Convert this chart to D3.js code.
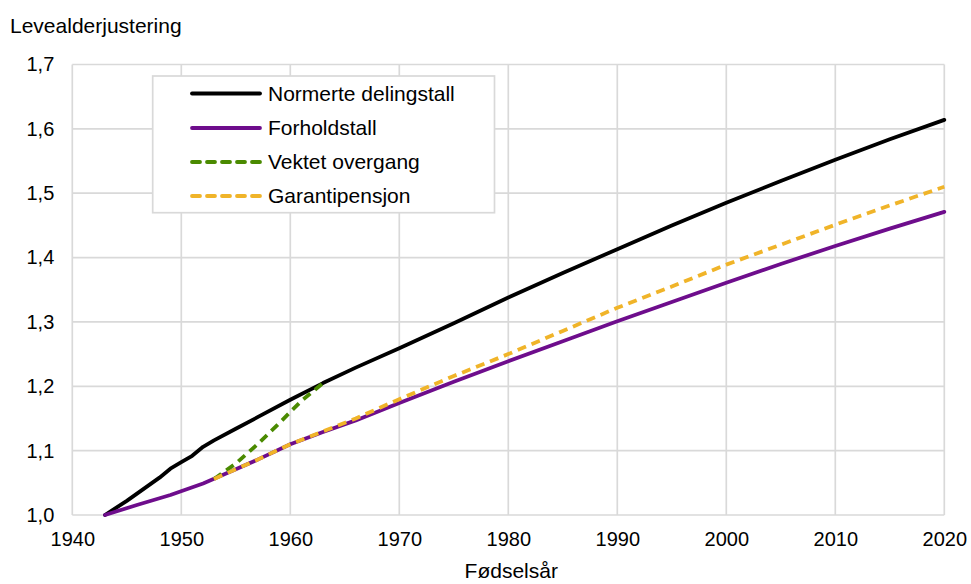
<!DOCTYPE html>
<html>
<head>
<meta charset="utf-8">
<script src="https://cdn.jsdelivr.net/npm/d3@7"></script>
<style>
  html, body { margin: 0; padding: 0; background: #fff; }
  svg { display: block; font-family: "Liberation Sans", Arial, sans-serif; }
</style>
</head>
<body>
<svg id="chart" width="971" height="584"></svg>
<script>
// ---- Data ----
const xTicks = [1940, 1950, 1960, 1970, 1980, 1990, 2000, 2010, 2020];
const yTicks = [1.0, 1.1, 1.2, 1.3, 1.4, 1.5, 1.6, 1.7];

const normerteYears = [1943, 1945, 1947, 1948, 1949, 1950, 1951, 1952, 1953, 1955, 1957, 1960, 1963, 1966, 1970, 1975, 1980, 1985, 1990, 1995, 2000, 2005, 2010, 2015, 2020];
const normerteVals  = [1.000, 1.022, 1.046, 1.058, 1.072, 1.082, 1.092, 1.106, 1.116, 1.134, 1.152, 1.179, 1.205, 1.229, 1.259, 1.298, 1.338, 1.376, 1.413, 1.450, 1.485, 1.519, 1.552, 1.584, 1.614];

const forholdYears = [1943, 1946, 1949, 1952, 1955, 1957, 1960, 1963, 1966, 1970, 1975, 1980, 1985, 1990, 1995, 2000, 2005, 2010, 2015, 2020];
const forholdVals  = [1.000, 1.016, 1.031, 1.049, 1.071, 1.086, 1.110, 1.129, 1.147, 1.174, 1.207, 1.239, 1.270, 1.301, 1.331, 1.361, 1.390, 1.418, 1.445, 1.471];

const vektetYears = [1953, 1955, 1957, 1959, 1961, 1963];
const vektetVals  = [1.056, 1.080, 1.110, 1.143, 1.177, 1.205];

const garantiYears = [1953, 1955, 1957, 1960, 1963, 1966, 1968, 1970, 1975, 1980, 1985, 1990, 1995, 2000, 2005, 2010, 2015, 2020];
const garantiVals  = [1.056, 1.071, 1.086, 1.110, 1.130, 1.150, 1.165, 1.180, 1.216, 1.250, 1.286, 1.322, 1.355, 1.389, 1.420, 1.451, 1.481, 1.510];

const seriesNames = ["Normerte delingstall", "Forholdstall", "Vektet overgang", "Garantipensjon"];

// ---- Styles ----
const colors = ["#000000", "#6e0d8c", "#4a8a00", "#f0b429"];
const dashes = [null, null, "9,6", "9,6"];

const svg = d3.select("#chart");
const W = 971, H = 584;
const m = { left: 72.3, right: W - 944.3, top: 64.5, bottom: H - 515 };

const x = d3.scaleLinear().domain([1940, 2020]).range([m.left, W - m.right]);
const y = d3.scaleLinear().domain([1.0, 1.7]).range([H - m.bottom, m.top]);

const gridColor = "#d9d9d9";

// Gridlines
svg.append("g").selectAll("line.h").data(yTicks).join("line")
  .attr("x1", x(1940)).attr("x2", x(2020))
  .attr("y1", d => y(d)).attr("y2", d => y(d))
  .attr("stroke", gridColor).attr("stroke-width", 1.7);
svg.append("g").selectAll("line.v").data(xTicks).join("line")
  .attr("y1", y(1.0)).attr("y2", y(1.7))
  .attr("x1", d => x(d)).attr("x2", d => x(d))
  .attr("stroke", gridColor).attr("stroke-width", 1.7);

// Axes (labels only)
const fmt = d3.format(".1f");
const xAxis = d3.axisBottom(x).tickValues(xTicks).tickSize(0).tickPadding(17).tickFormat(d3.format("d"));
const gx = svg.append("g").attr("transform", `translate(0,${y(1.0)})`).call(xAxis);
gx.select(".domain").remove();
gx.selectAll("text").attr("font-size", 20).attr("fill", "#000").attr("font-family", "Liberation Sans, Arial, sans-serif");

const yAxis = d3.axisLeft(y).tickValues(yTicks).tickSize(0).tickPadding(18).tickFormat(d => fmt(d).replace(".", ","));
const gy = svg.append("g").attr("transform", `translate(${x(1940)},0)`).call(yAxis);
gy.select(".domain").remove();
gy.selectAll("text").attr("font-size", 20).attr("fill", "#000").attr("font-family", "Liberation Sans, Arial, sans-serif");

// Titles
svg.append("text").attr("x", 10).attr("y", 33).attr("font-size", 21).attr("fill", "#000")
  .text("Levealderjustering");
svg.append("text").attr("x", (x(1940) + x(2020)) / 2 + 3).attr("y", 578).attr("text-anchor", "middle")
  .attr("font-size", 21).attr("fill", "#000").text("Fødselsår");

// Lines
const line = d3.line().x(d => x(d[0])).y(d => y(d[1]));
const seriesData = [
  d3.zip(normerteYears, normerteVals),
  d3.zip(forholdYears, forholdVals),
  d3.zip(vektetYears, vektetVals),
  d3.zip(garantiYears, garantiVals)
];
[0, 1, 2, 3].forEach(i => {
  svg.append("path").datum(seriesData[i])
    .attr("d", line)
    .attr("fill", "none")
    .attr("stroke", colors[i])
    .attr("stroke-width", 3.8)
    .attr("stroke-linejoin", "round")
    .attr("stroke-linecap", dashes[i] ? "butt" : "round")
    .attr("stroke-dasharray", dashes[i]);
});

// Legend
const lg = svg.append("g");
lg.append("rect").attr("x", 152.7).attr("y", 76).attr("width", 494.5 - 152.7).attr("height", 212.7 - 76)
  .attr("fill", "#fff").attr("stroke", gridColor).attr("stroke-width", 1.7);
const rowY = [93.5, 128, 162, 196];
seriesNames.forEach((name, i) => {
  lg.append("line").attr("x1", 192).attr("x2", 260).attr("y1", rowY[i]).attr("y2", rowY[i])
    .attr("stroke", colors[i]).attr("stroke-width", 3.8)
    .attr("stroke-linecap", "round")
    .attr("stroke-dasharray", dashes[i] ? "8,7" : null);
  lg.append("text").attr("x", 268).attr("y", rowY[i]).attr("dy", "0.35em")
    .attr("font-size", 21).attr("fill", "#000").text(name);
});
</script>
</body>
</html>
